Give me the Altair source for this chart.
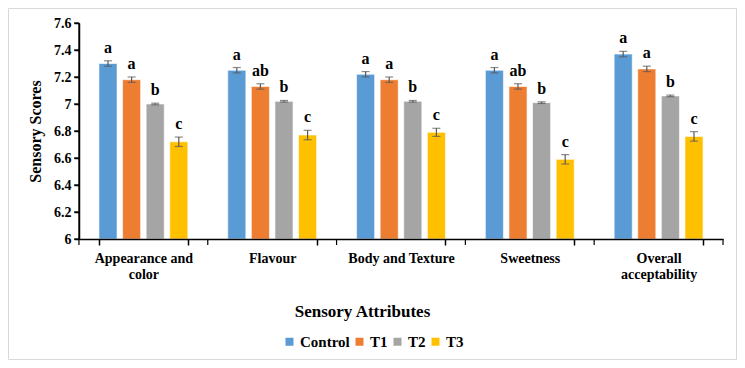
import altair as alt
import pandas as pd

attributes = ["Appearance and color", "Flavour", "Body and Texture", "Sweetness", "Overall acceptability"]
treatments = ["Control", "T1", "T2", "T3"]
colors = ["#5B9BD5", "#ED7D31", "#A5A5A5", "#FFC000"]

control = [7.30, 7.25, 7.22, 7.25, 7.37]
t1 = [7.18, 7.13, 7.18, 7.13, 7.26]
t2 = [7.00, 7.02, 7.02, 7.01, 7.06]
t3 = [6.72, 6.77, 6.79, 6.59, 6.76]

err_control = [0.02, 0.02, 0.02, 0.02, 0.02]
err_t1 = [0.02, 0.02, 0.02, 0.02, 0.02]
err_t2 = [0.006, 0.006, 0.006, 0.006, 0.006]
err_t3 = [0.035, 0.035, 0.03, 0.035, 0.035]

letters_control = ["a", "a", "a", "a", "a"]
letters_t1 = ["a", "ab", "a", "ab", "a"]
letters_t2 = ["b", "b", "b", "b", "b"]
letters_t3 = ["c", "c", "c", "c", "c"]

y_ticks = [6, 6.2, 6.4, 6.6, 6.8, 7, 7.2, 7.4, 7.6]

rows = []
for tr, vals, errs, lets in [
    ("Control", control, err_control, letters_control),
    ("T1", t1, err_t1, letters_t1),
    ("T2", t2, err_t2, letters_t2),
    ("T3", t3, err_t3, letters_t3),
]:
    for a, v, e, l in zip(attributes, vals, errs, lets):
        rows.append({"Attribute": a, "Treatment": tr, "Score": v,
                     "Low": v - e, "High": v + e, "Letter": l})
df = pd.DataFrame(rows)
ticks_df = pd.DataFrame({"Tick": y_ticks})
attr_df = pd.DataFrame({"Attribute": attributes})

FONT = "Liberation Serif"

x_axis = alt.Axis(
    title="Sensory Attributes",
    labelAngle=0,
    labelExpr="datum.label == 'Appearance and color' ? ['Appearance and', 'color'] : datum.label == 'Overall acceptability' ? ['Overall', 'acceptability'] : datum.label",
    tickBand="extent",
    tickSize=6,
    labelPadding=6,
    titlePadding=22,
    titleX=283,
    labelFontSize=14,
    titleFontSize=17,
    zindex=1,
    domain=True, domainColor="#000000", domainWidth=1.5,
    ticks=True, tickColor="#000000", tickWidth=1.5,
)
y_axis = alt.Axis(title="Sensory Scores", values=y_ticks, labelOverlap=False,
                  format="~g", tickSize=5, labelPadding=3, titlePadding=10,
                  labelFontSize=14, titleFontSize=16, zindex=1,
                  domain=True, domainColor="#000000", domainWidth=1.5,
                  ticks=True, tickColor="#000000", tickWidth=1.5)

x_scale = alt.Scale(paddingInner=0.31, paddingOuter=0.155)
y_scale = alt.Scale(domain=[6, 7.6], nice=False, zero=False)
x_enc = alt.X("Attribute:N", sort=attributes, scale=x_scale, axis=x_axis)
xoff = alt.XOffset("Treatment:N", sort=treatments,
                   scale=alt.Scale(paddingInner=0.234, paddingOuter=0))

base = alt.Chart(df).encode(x=x_enc, xOffset=xoff)

bars = base.mark_bar(stroke="white", strokeWidth=0.6).encode(
    y=alt.Y("Score:Q", scale=y_scale, axis=y_axis),
    y2=alt.datum(6),
    color=alt.Color("Treatment:N", sort=treatments,
                    scale=alt.Scale(domain=treatments, range=colors),
                    legend=alt.Legend(title=None, orient="none", direction="horizontal",
                                      legendX=203, legendY=311, symbolType="square",
                                      symbolSize=64, symbolStrokeWidth=0,
                                      labelFontSize=15, labelOffset=3, columnPadding=2)),
)

rules = base.mark_rule(color="#595959", strokeWidth=1.2).encode(
    y=alt.Y("Low:Q", scale=y_scale, axis=y_axis),
    y2="High:Q",
)
caps_low = base.mark_tick(color="#595959", size=8, thickness=1.2, orient="horizontal").encode(
    y=alt.Y("Low:Q", scale=y_scale, axis=y_axis),
)
caps_high = base.mark_tick(color="#595959", size=8, thickness=1.2, orient="horizontal").encode(
    y=alt.Y("High:Q", scale=y_scale, axis=y_axis),
)
letters = base.mark_text(font=FONT, fontWeight="bold", fontSize=16, dy=-8,
                         baseline="alphabetic", color="black").encode(
    y=alt.Y("High:Q", scale=y_scale, axis=y_axis),
    text="Letter:N",
)

# y axis line and tick marks drawn through the y scale
y_line = alt.Chart(ticks_df).mark_rule(color="black", strokeWidth=1.3).encode(
    x=alt.value(0),
    y=alt.Y("min(Tick):Q", scale=y_scale, axis=y_axis),
    y2="max(Tick):Q",
)
y_tick_marks = alt.Chart(ticks_df).mark_rule(color="black", strokeWidth=1.2).encode(
    x=alt.value(-5), x2=alt.value(0),
    y=alt.Y("Tick:Q", scale=y_scale, axis=y_axis),
)

# x tick marks at the category boundaries, placed through the band scale
x_ticks_left = alt.Chart(attr_df).mark_rule(color="black", strokeWidth=1.2, xOffset=-20).encode(
    x=alt.X("Attribute:N", sort=attributes, scale=x_scale, axis=x_axis, bandPosition=0),
    y=alt.value(216), y2=alt.value(222),
)
x_ticks_right = alt.Chart(attr_df).mark_rule(color="black", strokeWidth=1.2, xOffset=20).encode(
    x=alt.X("Attribute:N", sort=attributes, scale=x_scale, axis=x_axis, bandPosition=1),
    y=alt.value(216), y2=alt.value(222),
).transform_filter(alt.datum.Attribute == attributes[-1])

frame = alt.Chart(pd.DataFrame({"k": [0]})).mark_rect(
    fill="white", fillOpacity=0, stroke="#d9d9d9", strokeWidth=1
).encode(x=alt.value(-70.5), x2=alt.value(657.5), y=alt.value(-14.5), y2=alt.value(336.5))

chart = alt.layer(frame, bars, rules, caps_low, caps_high, letters,
                  y_line, y_tick_marks, x_ticks_left, x_ticks_right).properties(
    width=644, height=216,
    autosize=alt.AutoSizeParams(type="none"),
    padding={"left": 71, "top": 15, "right": 14, "bottom": 121},
).configure_view(stroke=None).configure_axis(
    labelFont=FONT, titleFont=FONT, labelFontWeight="bold", titleFontWeight="bold",
    labelColor="black", titleColor="black", grid=False,
).configure_legend(labelFont=FONT, labelFontWeight="bold", labelColor="black")

chart.save("out.html", embed_options={"renderer": "svg", "actions": False})
